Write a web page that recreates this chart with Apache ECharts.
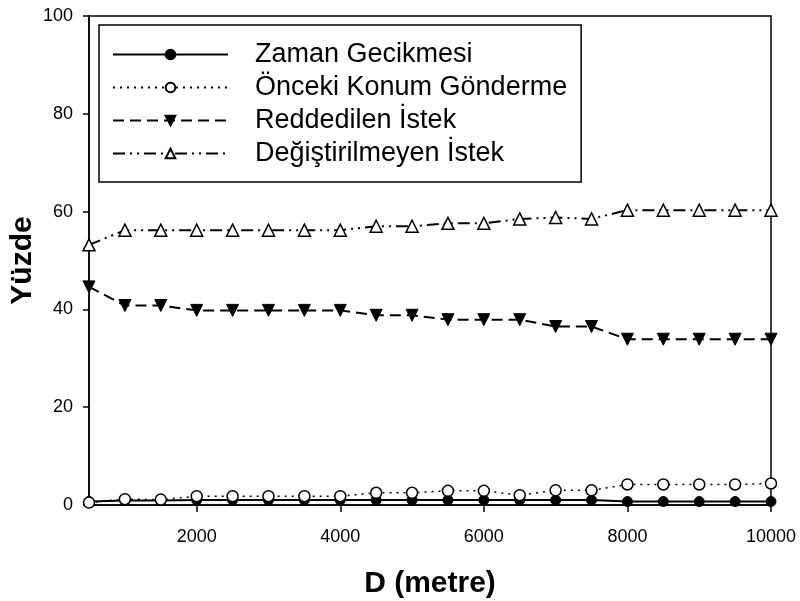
<!DOCTYPE html>
<html>
<head>
<meta charset="utf-8">
<script src="https://cdn.jsdelivr.net/npm/echarts@6/dist/echarts.min.js"></script>
<style>
    html, body { margin: 0; padding: 0; background: #fff; }
    #container { width: 800px; height: 601px; }
</style>
</head>
<body>
<div id="container"></div>
<script>
var distances = [500, 1000, 1500, 2000, 2500, 3000, 3500, 4000, 4500, 5000,
    5500, 6000, 6500, 7000, 7500, 8000, 8500, 9000, 9500, 10000];
var zamanGecikmesi = [0.7, 0.9, 0.9, 1.0, 1.0, 1.0, 1.0, 1.0, 1.0, 1.0,
    1.0, 1.0, 1.0, 1.0, 1.0, 0.7, 0.7, 0.7, 0.7, 0.7];
var oncekiKonum = [0.5, 1.2, 1.1, 1.8, 1.8, 1.8, 1.8, 1.8, 2.5, 2.5,
    2.9, 2.9, 2.0, 3.0, 3.0, 4.2, 4.2, 4.2, 4.2, 4.4];
var reddedilen = [44.6, 40.8, 40.8, 39.8, 39.8, 39.8, 39.8, 39.8, 38.8, 38.8,
    37.9, 37.9, 37.9, 36.5, 36.5, 33.9, 33.9, 33.9, 33.9, 33.9];
var degistirilmeyen = [53.2, 56.2, 56.2, 56.2, 56.2, 56.2, 56.2, 56.2, 57.0, 57.0,
    57.6, 57.6, 58.5, 58.8, 58.5, 60.3, 60.3, 60.3, 60.3, 60.3];
var xTicks = [2000, 4000, 6000, 8000, 10000];
var seriesNames = ['Zaman Gecikmesi', 'Önceki Konum Gönderme', 'Reddedilen İstek', 'Değiştirilmeyen İstek'];

function pairs(ys) {
    return distances.map(function (d, i) { return [d, ys[i]]; });
}

var font = '"Liberation Sans", Arial, sans-serif';
var myChart = echarts.init(document.getElementById('container'));
myChart.setOption({
    animation: false,
    grid: {
        left: 89, right: 29, top: 16, bottom: 96,
        outerBoundsMode: 'none',
        containLabel: false,
        show: true, borderColor: '#000', borderWidth: 1.5
    },
    legend: {
        orient: 'vertical',
        left: 99, top: 25,
        data: seriesNames,
        itemWidth: 115,
        itemHeight: 12,
        itemGap: 6,
        padding: [16, 14, 15, 13],
        borderColor: '#000',
        borderWidth: 1.5,
        textStyle: { fontFamily: font, fontSize: 27, color: '#000', lineHeight: 27, padding: [0, 0, 0, 22] }
    },
    xAxis: {
        type: 'value',
        min: 500, max: 10000,
        splitLine: { show: false },
        axisLine: { lineStyle: { color: '#000', width: 1.5 } },
        axisTick: { customValues: xTicks, length: 7, lineStyle: { color: '#000', width: 1.5 } },
        axisLabel: {
            customValues: xTicks, margin: 23, fontFamily: font, fontSize: 18, color: '#000',
            formatter: function (v) { return String(v); }
        },
        name: 'D (metre)',
        nameLocation: 'middle',
        nameGap: 64,
        nameTextStyle: { fontFamily: font, fontSize: 30, fontWeight: 'bold', color: '#000' }
    },
    yAxis: {
        type: 'value',
        min: 0, max: 100, interval: 20,
        splitLine: { show: false },
        axisLine: { lineStyle: { color: '#000', width: 1.5 } },
        axisTick: { length: 6, lineStyle: { color: '#000', width: 1.5 } },
        axisLabel: { margin: 16, fontFamily: font, fontSize: 18, color: '#000' },
        name: 'Yüzde',
        nameLocation: 'middle',
        nameGap: 51,
        nameMoveOverlap: false,
        nameTextStyle: { fontFamily: font, fontSize: 30, fontWeight: 'bold', color: '#000' }
    },
    series: [{
            name: seriesNames[0],
            type: 'line',
            data: pairs(zamanGecikmesi),
            symbol: 'circle',
            symbolSize: 10,
            itemStyle: { color: '#000', borderColor: '#000', borderWidth: 1 },
            lineStyle: { color: '#000', width: 2, type: 'solid' }
        }, {
            name: seriesNames[1],
            type: 'line',
            data: pairs(oncekiKonum),
            symbol: 'circle',
            symbolSize: 11,
            itemStyle: { color: '#fff', borderColor: '#000', borderWidth: 1.5 },
            lineStyle: { color: '#000', width: 1.5, type: [2, 5] }
        }, {
            name: seriesNames[2],
            type: 'line',
            data: pairs(reddedilen),
            symbol: 'triangle',
            symbolRotate: 180,
            symbolSize: 12,
            itemStyle: { color: '#000', borderColor: '#000', borderWidth: 1 },
            lineStyle: { color: '#000', width: 2, type: [11, 6] }
        }, {
            name: seriesNames[3],
            type: 'line',
            data: pairs(degistirilmeyen),
            symbol: 'triangle',
            symbolSize: 12,
            itemStyle: { color: '#fff', borderColor: '#000', borderWidth: 1.5 },
            lineStyle: { color: '#000', width: 2, type: [12, 5, 2, 5, 2, 5] }
        }]
});
</script>
</body>
</html>
